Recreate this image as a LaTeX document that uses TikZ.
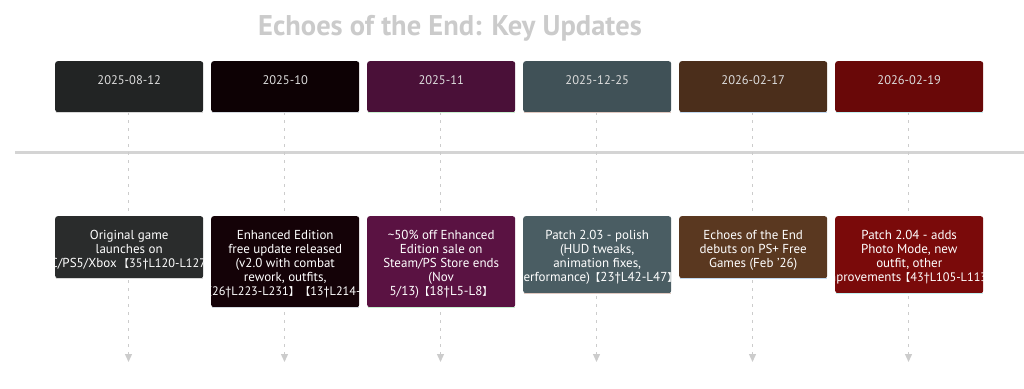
\documentclass[tikz,border=0pt]{standalone}
\usepackage{fontspec}
\setmainfont{PT Sans}
\newfontfamily\cjk{Noto Sans CJK SC}
\usetikzlibrary{arrows.meta}
\newcommand{\lbk}{{\cjk\fontsize{10.5}{10}\selectfont 【}}
\newcommand{\rbk}{{\cjk\fontsize{10.5}{10}\selectfont 】}}
\newcommand{\srcref}[1]{{\fontsize{12.3}{14}\selectfont\kern-1.5pt\lbk #1\rbk\kern-1.5pt}}
\definecolor{ta}{HTML}{222424}
\definecolor{tb}{HTML}{0D0104}
\definecolor{tc}{HTML}{4A1038}
\definecolor{td}{HTML}{405157}
\definecolor{te}{HTML}{4B2E1B}
\definecolor{tf}{HTML}{690808}
\definecolor{ba}{HTML}{2A2C2C}
\definecolor{bb}{HTML}{140207}
\definecolor{bc}{HTML}{5A1242}
\definecolor{bd}{HTML}{4A5D63}
\definecolor{be}{HTML}{5A3820}
\definecolor{bf}{HTML}{7A0A0A}
\definecolor{ua}{HTML}{D8D8D8}
\definecolor{ub}{HTML}{D4DAE0}
\definecolor{uc}{HTML}{C8F0D0}
\definecolor{ud}{HTML}{E0C8C0}
\definecolor{ue}{HTML}{C0D8F0}
\definecolor{uf}{HTML}{C0F0F0}
\definecolor{axis}{HTML}{D4D4D4}
\definecolor{guide}{HTML}{CCCCCC}
\definecolor{titlegray}{HTML}{CBCBCB}
\definecolor{datetxt}{HTML}{DDDDDD}
\tikzset{
  datebox/.style={rectangle, rounded corners=2.5pt, inner sep=0pt, minimum width=148pt, minimum height=51pt, anchor=north west, draw=none},
  evbox/.style={rectangle, rounded corners=2.5pt, inner sep=0pt, minimum width=148pt, anchor=north west, draw=none},
  datetext/.style={text=datetxt, font=\fontsize{12.5}{14}\selectfont, inner sep=0pt},
  evtext/.style={text=white, font=\fontsize{13}{14}\selectfont, align=center, inner sep=0pt, anchor=north},
  guideline/.style={draw=guide, line width=1.3pt, dash pattern=on 3pt off 5pt, -{Triangle[width=7pt,length=8pt,fill=guide]}},
  uline/.style={line width=1pt}
}
\begin{document}
\begin{tikzpicture}[x=1pt,y=-1pt]
\useasboundingbox (0,0) rectangle (1024,388);
% title
\node[text=titlegray, font=\fontsize{28.5}{32}\bfseries\selectfont] (title) at (450,28) {Echoes of the End: Key Updates};
% axis
\coordinate (axl) at (15,152);
\coordinate (axr) at (1024,152);
\draw[axis, line width=3pt] (axl) -- (axr);
% guide lines
\foreach \i/\x in {1/128.5,2/284.5,3/440.5,4/596.5,5/752.5,6/908.5}{
  \coordinate (gtop\i) at (\x,112);
  \coordinate (gend\i) at (\x,362);
  \draw[guideline] (gtop\i) -- (gend\i);
}
% date boxes
\foreach \i/\x/\c/\u/\d in {1/55/ta/ua/2025-08-12,2/211/tb/ub/2025-10,3/367/tc/uc/2025-11,4/523/td/ud/2025-12-25,5/679/te/ue/2026-02-17,6/835/tf/uf/2026-02-19}{
  \node[datebox, fill=\c] (t\i) at (\x,61) {};
  \draw[\u, uline] ([xshift=0.5pt,yshift=-0.5pt]t\i.south west) -- ([xshift=-0.5pt,yshift=-0.5pt]t\i.south east);
  \node[datetext] (dt\i) at ([yshift=-19pt]t\i.north) {\d};
}
% event boxes
\node[evbox, fill=ba, minimum height=62pt] (e1) at (55,216) {};
\node[evbox, fill=bb, minimum height=91pt] (e2) at (211,216) {};
\node[evbox, fill=bc, minimum height=91pt] (e3) at (367,216) {};
\node[evbox, fill=bd, minimum height=77pt] (e4) at (523,216) {};
\node[evbox, fill=be, minimum height=62pt] (e5) at (679,216) {};
\node[evbox, fill=bf, minimum height=77pt] (e6) at (835,216) {};
\foreach \i/\u in {1/ua,2/ub,3/uc,4/ud,5/ue,6/uf}{
  \draw[\u, uline] ([xshift=0.5pt,yshift=-0.5pt]e\i.south west) -- ([xshift=-0.5pt,yshift=-0.5pt]e\i.south east);
}
\begin{scope}
\clip (e1.north west) rectangle (e1.south east);
\node[evtext] (x1) at ([yshift=-14pt]e1.north) {Original game\\launches on\\PC/PS5/Xbox \srcref{35†L120-L127}};
\end{scope}
\begin{scope}
\clip (e2.north west) rectangle (e2.south east);
\node[evtext] (x2) at ([yshift=-14pt]e2.north) {Enhanced Edition\\free update released\\(v2.0 with combat\\rework, outfits,\\PG+) \srcref{26†L223-L231}\ \srcref{13†L214-L222}};
\end{scope}
\begin{scope}
\clip (e3.north west) rectangle (e3.south east);
\node[evtext] (x3) at ([yshift=-14pt]e3.north) {\textasciitilde50\% off Enhanced\\Edition sale on\\Steam/PS Store ends\\(Nov\\5/13)\lbk18†L5-L8\rbk};
\end{scope}
\begin{scope}
\clip (e4.north west) rectangle (e4.south east);
\node[evtext] (x4) at ([yshift=-14pt]e4.north) {Patch 2.03 - polish\\(HUD tweaks,\\animation fixes,\\performance)\lbk23†L42-L47\rbk};
\end{scope}
\begin{scope}
\clip (e5.north west) rectangle (e5.south east);
\node[evtext] (x5) at ([yshift=-14pt]e5.north) {Echoes of the End\\debuts on PS+ Free\\Games (Feb ’26)};
\end{scope}
\begin{scope}
\clip (e6.north west) rectangle (e6.south east);
\node[evtext] (x6) at ([yshift=-14pt]e6.north) {Patch 2.04 - adds\\Photo Mode, new\\outfit, other\\improvements\srcref{43†L105-L113}};
\end{scope}
\end{tikzpicture}
\end{document}
